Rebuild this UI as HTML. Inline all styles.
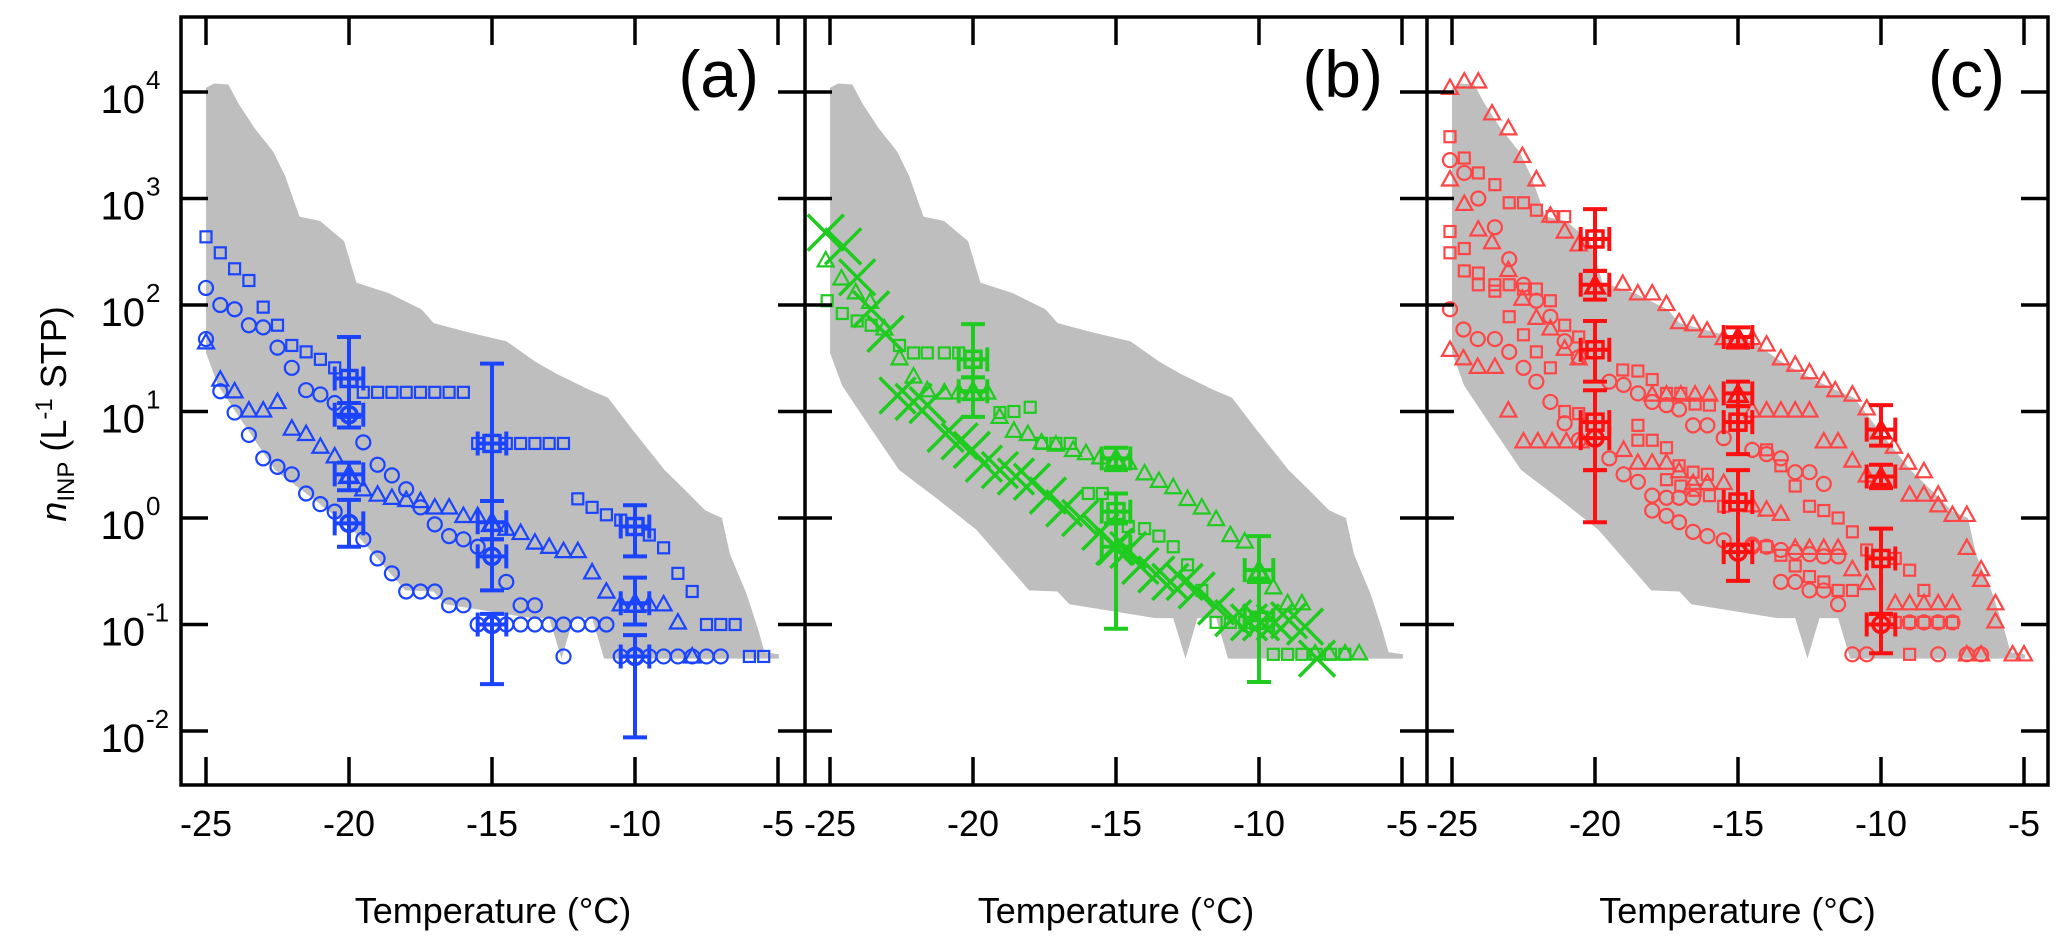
<!DOCTYPE html>
<html><head><meta charset="utf-8"><style>
html,body{margin:0;padding:0;background:#fff;}
svg{display:block;font-family:"Liberation Sans",Arial,sans-serif;}
</style></head><body>
<svg id="chart" width="2067" height="949" viewBox="0 0 2067 949" xmlns="http://www.w3.org/2000/svg">
<g id="envelopes"></g>
<g id="marks"></g>
<g id="axes"></g>
<text transform="translate(66,414) rotate(-90)" text-anchor="middle" font-size="36"><tspan font-style="italic">n</tspan><tspan font-size="24" dy="8">INP</tspan><tspan dy="-8"> (L</tspan><tspan font-size="24" dy="-14">-1</tspan><tspan dy="14"> STP)</tspan></text>
</svg>
<script>
// ----- shared envelope (log10 n) -----
const envUpperT = [-25,-24.71,-24.22,-23.86,-23.3,-22.65,-22.23,-21.73,-21.02,-20.17,-19.74,-18.6,-17.47,-17.04,-15.77,-14.5,-13.5,-12.78,-11.65,-10.94,-10.09,-8.96,-8.24,-7.54,-6.96,-6.68,-6.1,-5.68,-5.47,-4.97];
const envUpperL = [4.04,4.08,4.07,3.89,3.66,3.44,3.21,2.83,2.79,2.60,2.21,2.11,1.96,1.83,1.74,1.66,1.47,1.36,1.21,1.13,0.83,0.45,0.26,0.07,0.0,-0.34,-0.71,-1.06,-1.26,-1.28];
const envLowerT = [-4.97,-11.08,-11.5,-12.15,-12.57,-13.0,-13.63,-16.63,-17.05,-18.04,-19.88,-21.3,-22.58,-23.72,-24.57,-25];
const envLowerL = [-1.32,-1.32,-0.94,-0.94,-1.32,-0.94,-0.94,-0.81,-0.69,-0.68,-0.11,0.19,0.45,0.9,1.24,1.55];

// ----- panel (a) blue -----
const aSqT = [-25,-24.5,-24,-23.5,-23,-22.5,-22,-21.5,-21,-20.5,-19.5,-19,-18.5,-18,-17.5,-17,-16.5,-16,-15.5,-14.5,-14,-13.5,-13,-12.5,-12,-11.5,-11,-10.5,-9.5,-9,-8.5,-8,-7.5,-7,-6.5,-6,-5.5];
const aSqL = [2.64,2.49,2.34,2.23,1.98,1.81,1.62,1.56,1.49,1.41,1.18,1.18,1.18,1.18,1.18,1.18,1.18,1.18,0.70,0.70,0.70,0.70,0.70,0.70,0.18,0.10,0.03,-0.02,-0.16,-0.28,-0.52,-0.69,-1.0,-1.0,-1.0,-1.3,-1.3];
const aCirc1T = [-25,-24.5,-24,-23.5,-23,-22.5,-22,-21.5,-21,-20.5,-19.5,-19,-18.5,-18,-17.5,-17,-16.5,-16,-15.5,-14.5,-14,-13.5,-13,-12.5,-12,-11.5,-11];
const aCirc1L = [2.16,2.0,1.96,1.81,1.79,1.60,1.41,1.20,1.16,1.08,0.71,0.50,0.40,0.27,0.10,-0.06,-0.17,-0.2,-0.27,-0.6,-0.82,-0.82,-1.0,-1.0,-1.0,-1.0,-1.0];
const aCirc2T = [-25,-24.5,-24,-23.5,-23,-22.5,-22,-21.5,-21,-20.5,-19.5,-19,-18.5,-18,-17.5,-17,-16.5,-16,-15.5,-14.5,-14,-13.5,-12.5,-10.5,-9.5,-9,-8.5,-8,-7.5,-7];
const aCirc2L = [1.68,1.19,0.99,0.78,0.56,0.48,0.41,0.23,0.13,0.06,-0.2,-0.38,-0.52,-0.69,-0.69,-0.69,-0.82,-0.82,-1.0,-1.0,-1.0,-1.0,-1.3,-1.3,-1.3,-1.3,-1.3,-1.3,-1.3,-1.3];
const aTriT = [-25,-24.5,-24,-23.5,-23,-22.5,-22,-21.5,-21,-20.5,-19.5,-19,-18.5,-18,-17.5,-17,-16.5,-16,-15.5,-14.5,-14,-13.5,-13,-12.5,-12,-11.5,-11,-10.5,-9.5,-9,-8.5,-8];
const aTriL = [1.66,1.31,1.20,1.02,1.02,1.10,0.85,0.80,0.68,0.59,0.28,0.23,0.2,0.18,0.17,0.11,0.11,0.03,0.03,-0.09,-0.13,-0.22,-0.26,-0.30,-0.30,-0.5,-0.68,-0.8,-0.8,-0.8,-0.97,-1.29];
const aErrT = [-20,-20,-20,-20,-15,-15,-15,-15,-10,-10,-10];
const aErrL = [1.31,0.97,0.41,-0.05,0.70,-0.04,-0.36,-1.0,-0.08,-0.8,-1.3];
const aErrLo = [0.95,0.85,0.26,-0.27,0.16,-0.2,-0.68,-1.56,-0.36,-1.0,-2.06];
const aErrHi = [1.70,1.08,0.52,0.17,1.45,0.16,-0.2,-0.9,0.12,-0.56,-1.1];
const aErrShape = ['square','circle','triangle','circle','square','triangle','circle','circle','square','triangle','circle'];

// ----- panel (b) green -----
const bCrossT = [-25.15,-24.54,-24.05,-23.56,-23.06,-22.64,-22.08,-21.59,-20.96,-20.47,-20.04,-19.62,-19.06,-18.5,-17.94,-17.38,-16.81,-16.25,-15.55,-15.06,-14.57,-14.15,-13.59,-13.1,-12.6,-12.18,-11.5,-10.9,-10.35,-9.93,-9.45,-8.95,-8.39,-7.97];
const bCrossL = [2.68,2.55,2.26,1.96,1.73,1.15,1.09,1.06,0.79,0.72,0.64,0.51,0.45,0.39,0.34,0.21,0.09,0.0,-0.13,-0.27,-0.30,-0.45,-0.53,-0.60,-0.60,-0.68,-0.83,-0.94,-0.98,-0.98,-0.98,-0.96,-1.02,-1.32];
const bTriT = [-25.15,-24.6,-24.1,-23.6,-23.1,-22.57,-22.08,-21.6,-21,-20.5,-19.5,-19.07,-18.57,-18.08,-17.6,-17.1,-16.5,-16.05,-15.55,-14.57,-14,-13.5,-13,-12.5,-12,-11.5,-11,-10.5,-9.5,-9,-8.5,-8.04,-7.55,-6.99,-6.5];
const bTriL = [2.43,2.26,2.13,2.04,1.79,1.51,1.34,1.21,1.19,1.19,1.19,0.96,0.83,0.80,0.72,0.70,0.65,0.62,0.58,0.53,0.43,0.36,0.30,0.19,0.11,0.0,-0.15,-0.21,-0.64,-0.79,-0.79,-1.26,-1.26,-1.26,-1.26];
const bSqT = [-25.1,-24.57,-24.05,-23.56,-22.57,-22.08,-21.6,-21,-20.5,-19.06,-18.57,-18,-17.6,-17.1,-16.6,-15.97,-15.48,-14.57,-14,-13.5,-13,-12.5,-12,-11.5,-11,-10.5,-9.5,-9,-8.5,-8,-7.5,-7];
const bSqL = [2.04,1.92,1.85,1.81,1.62,1.55,1.55,1.55,1.55,0.99,1.0,1.04,0.70,0.70,0.70,0.23,0.23,-0.08,-0.10,-0.17,-0.27,-0.44,-0.68,-0.98,-0.98,-0.98,-1.28,-1.28,-1.28,-1.28,-1.28,-1.28];
const bErrT = [-20,-20,-15,-15,-15,-10,-10];
const bErrL = [1.49,1.19,0.56,0.06,-0.27,-0.49,-0.96];
const bErrLo = [1.32,0.95,0.45,-0.05,-1.04,-0.6,-1.54];
const bErrHi = [1.82,1.32,0.66,0.23,-0.05,-0.17,-0.6];
const bErrShape = ['square','triangle','triangle','square','cross','triangle','square'];

// ----- panel (c) red -----
const cTri1T = [-25.07,-24.57,-24.08,-23.6,-23.03,-22.54,-22.05,-21.56,-21.06,-20.57,-19.03,-18.5,-18,-17.5,-17.06,-16.57,-16.08,-15.5,-14.5,-14,-13.5,-13,-12.5,-12,-11.6,-11,-10.5,-9.55,-9.05,-8.5,-8,-7.5,-7,-7,-6.5,-6.5,-6,-6,-5.4,-5];
const cTri1L = [4.05,4.11,4.11,3.81,3.67,3.41,3.19,2.85,2.70,2.58,2.21,2.12,2.12,2.02,1.85,1.83,1.77,1.70,1.70,1.64,1.51,1.45,1.38,1.30,1.21,1.17,1.04,0.68,0.53,0.45,0.23,0.04,0.04,-0.27,-0.47,-0.57,-0.79,-0.96,-1.27,-1.27];
const cTri2T = [-25.07,-24.57,-24.08,-23.6,-23.03,-22.54,-22.05,-21.56,-21.06,-20.57,-18,-17.5,-17,-16.5,-16,-14.5,-14,-13.5,-13,-12.5,-12,-11.5,-11,-10.5,-9,-8.5,-8];
const cTri2L = [3.19,2.96,2.72,2.60,2.34,2.07,1.89,1.79,1.60,1.51,1.17,1.17,1.17,1.17,1.17,1.02,1.02,1.02,1.02,1.02,0.73,0.73,0.55,0.41,0.23,0.23,0.13];
const cTri3T = [-25.07,-24.6,-24.1,-23.5,-23.03,-22.5,-22,-21.5,-21,-20.5,-19,-18.5,-18,-17.5,-17.06,-16.57,-16.07,-15.5,-14.5,-14,-13.5,-13,-12.5,-12,-11.5,-11,-10.5,-9.5,-9,-8.5,-8,-7.5,-7,-6.5];
const cTri3L = [1.59,1.51,1.43,1.43,1.02,0.73,0.73,0.73,0.73,0.73,0.65,0.53,0.53,0.53,0.45,0.34,0.34,0.34,0.13,0.09,0.05,-0.27,-0.27,-0.27,-0.27,-0.47,-0.6,-0.79,-0.79,-0.79,-0.79,-0.79,-1.27,-1.27];
const cCirc1T = [-25.07,-24.57,-24.08,-23.5,-23,-22.5,-22.05,-21.56,-21.06,-20.57,-19.5,-19,-18.5,-18,-17.5,-17.06,-16.57,-16.07,-15.5,-14.5,-14,-13.5,-13,-12.5,-12];
const cCirc1L = [3.36,3.24,3.0,2.73,2.43,2.19,2.04,1.89,1.66,1.51,1.28,1.25,1.17,1.09,1.06,1.02,0.87,0.87,0.75,0.64,0.60,0.56,0.43,0.43,0.32];
const cCirc2T = [-25.07,-24.6,-24.1,-23.5,-23,-22.5,-22.05,-21.56,-21.06,-20.57,-19.5,-19,-18.5,-18,-17.5,-17.06,-16.57,-14.5,-13.5,-13,-12.5,-12,-11.5];
const cCirc2L = [1.96,1.77,1.68,1.68,1.56,1.41,1.28,1.09,0.89,0.73,0.56,0.41,0.34,0.21,0.19,0.19,0.19,-0.27,-0.6,-0.6,-0.68,-0.68,-0.81];
const cCirc3T = [-18,-17.5,-17.06,-16.57,-16.07,-15.5,-14.5,-14,-13.5,-13,-12.5,-12,-11.5,-11,-10.5,-9,-8.5,-8,-7.5,-8,-7,-6.5];
const cCirc3L = [0.07,0.02,-0.04,-0.13,-0.17,-0.21,-0.25,-0.27,-0.3,-0.32,-0.34,-0.36,-0.36,-1.28,-1.28,-0.98,-0.98,-0.98,-0.98,-1.28,-1.28,-1.28];
const cSqT = [-25.07,-24.57,-24.08,-23.5,-23,-22.5,-22.05,-21.5,-21.06,-25.07,-25.07,-24.57,-24.57,-24.08,-24.08,-23.5,-23.5,-23,-23,-22.5,-22.5,-22.05,-22.05,-21.56,-21.56,-21.06,-21.06,-20.57,-20.57,-19.03,-18.5,-18,-17.5,-17,-16.5,-16,-18.5,-18.5,-18,-17.5,-17.06,-16.57,-16.07,-17.5,-17,-16.5,-16,-15.5,-14,-13.5,-13,-12.5,-12,-11.5,-11,-10.5,-9.5,-9,-8.5,-14,-13.5,-13,-12.5,-12,-11.5,-11,-9.5,-9,-8.5,-8,-7.5,-9];
const cSqL = [3.58,3.38,3.24,3.13,2.96,2.96,2.89,2.83,2.83,2.69,2.49,2.53,2.32,2.30,2.19,2.19,2.13,2.19,1.89,2.15,1.72,2.15,1.56,2.04,1.41,1.81,1.0,1.70,0.98,1.39,1.38,1.30,1.17,1.17,1.07,1.06,0.87,0.73,0.73,0.66,0.49,0.43,0.41,0.36,0.30,0.26,0.21,0.11,0.64,0.49,0.30,0.11,0.07,0.0,-0.13,-0.3,-0.38,-0.49,-0.68,-0.27,-0.35,-0.45,-0.55,-0.6,-0.68,-0.68,-0.98,-0.98,-0.98,-0.98,-0.98,-1.28];
const cErrT = [-20,-20,-20,-20,-20,-15,-15,-15,-15,-15,-10,-10,-10,-10];
const cErrL = [2.62,2.19,1.58,0.9,0.75,1.70,1.17,0.9,0.15,-0.32,0.83,0.39,-0.38,-1.0];
const cErrLo = [2.32,2.05,1.28,0.45,-0.04,1.60,1.05,0.6,-0.25,-0.59,0.68,0.28,-0.9,-1.27];
const cErrHi = [2.90,2.32,1.85,1.2,0.45,1.79,1.28,1.05,0.45,-0.25,1.06,0.5,-0.1,-0.9];
const cErrShape = ['square','triangle','square','square','circle','triangle','triangle','square','square','circle','triangle','triangle','square','circle'];

const xTickLabels = ['-25','-20','-15','-10','-5'];
const xTickValues = [-25,-20,-15,-10,-5];
const yTickExp = ['4','3','2','1','0','-1','-2'];
const yTickValues = [4,3,2,1,0,-1,-2];
const panelLetters = ['(a)','(b)','(c)'];

// ----- scales -----
const NS='http://www.w3.org/2000/svg';
const panelLeft=[181,805,1427], panelRight=2048, frameTop=17, frameBottom=785;
function xOf(p,T){return panelLeft[p]+25+(T+25)*28.6;}
function yOf(L){return 92+(4-L)*106.5;}
function mk(tag,attrs,parent){const e=document.createElementNS(NS,tag);for(const k in attrs)e.setAttribute(k,attrs[k]);parent.appendChild(e);return e;}

const envG=document.getElementById('envelopes');
const marksG=document.getElementById('marks');
const axG=document.getElementById('axes');

// envelopes
for(let p=0;p<3;p++){
  let pts=[];
  for(let i=0;i<envUpperT.length;i++)pts.push(xOf(p,envUpperT[i]).toFixed(1)+','+yOf(envUpperL[i]).toFixed(1));
  for(let i=0;i<envLowerT.length;i++)pts.push(xOf(p,envLowerT[i]).toFixed(1)+','+yOf(envLowerL[i]).toFixed(1));
  const poly=mk('polygon',{points:pts.join(' '),fill:'#bebebe'},envG);
  
  
}

function marker(parent,shape,cx,cy,s,color,sw){
  let e;
  if(shape==='square'){e=mk('rect',{x:cx-s/2,y:cy-s/2,width:s,height:s,fill:'none',stroke:color,'stroke-width':sw},parent);}
  else if(shape==='circle'){e=mk('circle',{cx:cx,cy:cy,r:s/2,fill:'none',stroke:color,'stroke-width':sw},parent);}
  else if(shape==='triangle'){const h=s*0.9;e=mk('polygon',{points:(cx-s/2)+','+(cy+h/2)+' '+(cx+s/2)+','+(cy+h/2)+' '+cx+','+(cy-h/2),fill:'none',stroke:color,'stroke-width':sw},parent);}
  else {const d=s/2;e=mk('path',{d:'M'+(cx-d)+' '+(cy-d)+'L'+(cx+d)+' '+(cy+d)+'M'+(cx-d)+' '+(cy+d)+'L'+(cx+d)+' '+(cy-d),fill:'none',stroke:color,'stroke-width':sw},parent);}
  return e;
}
function series(p,Ts,Ls,shape,color,size,sw,name){
  const g=mk('g',{},marksG);
  
  
  for(let i=0;i<Ts.length;i++){
    const m=marker(g,shape,xOf(p,Ts[i]),yOf(Ls[i]),size,color,sw);
    
    
  }
}
function errs(p,Ts,Ls,Lo,Hi,shapes,color,mcolor,name){
  const g=mk('g',{},marksG);
  
  
  for(let i=0;i<Ts.length;i++){
    const x=xOf(p,Ts[i]),y=yOf(Ls[i]),y1=yOf(Hi[i]),y2=yOf(Lo[i]);
    const xl=xOf(p,Ts[i]-0.5),xr=xOf(p,Ts[i]+0.5);
    const d='M'+x+' '+y1+'V'+y2+'M'+(x-12)+' '+y1+'H'+(x+12)+'M'+(x-12)+' '+y2+'H'+(x+12)+
      'M'+xl+' '+y+'H'+xr+'M'+xl+' '+(y-12)+'V'+(y+12)+'M'+xr+' '+(y-12)+'V'+(y+12);
    const e=mk('path',{d:d,fill:'none',stroke:color,'stroke-width':4},g);
    
    
    const sz=shapes[i]==='cross'?36:(shapes[i]==='triangle'?18:16);
    const m=marker(g,shapes[i],x,y,sz,mcolor,3.5);
    
    
  }
}

const BLUE='#1a44ff', GREEN='#1ecb1e', RED='#ff4545', RED2='#ff1010';
series(0,aSqT,aSqL,'square',BLUE,11,2.2,'a-squares');
series(0,aCirc1T,aCirc1L,'circle',BLUE,14,2.2,'a-circles-upper');
series(0,aCirc2T,aCirc2L,'circle',BLUE,14,2.2,'a-circles-lower');
series(0,aTriT,aTriL,'triangle',BLUE,16,2.2,'a-triangles');
errs(0,aErrT,aErrL,aErrLo,aErrHi,aErrShape,BLUE,BLUE,'a-error-bars');

series(1,bSqT,bSqL,'square',GREEN,11,2.2,'b-squares');
series(1,bTriT,bTriL,'triangle',GREEN,16,2.2,'b-triangles');
series(1,bCrossT,bCrossL,'cross',GREEN,36,3.5,'b-crosses');
errs(1,bErrT,bErrL,bErrLo,bErrHi,bErrShape,GREEN,GREEN,'b-error-bars');

series(2,cSqT,cSqL,'square',RED,11,2.2,'c-squares');
series(2,cCirc1T,cCirc1L,'circle',RED,14,2.2,'c-circles-upper');
series(2,cCirc2T,cCirc2L,'circle',RED,14,2.2,'c-circles-middle');
series(2,cCirc3T,cCirc3L,'circle',RED,14,2.2,'c-circles-lower');
series(2,cTri1T,cTri1L,'triangle',RED,16,2.2,'c-triangles-upper');
series(2,cTri2T,cTri2L,'triangle',RED,16,2.2,'c-triangles-middle');
series(2,cTri3T,cTri3L,'triangle',RED,16,2.2,'c-triangles-lower');
errs(2,cErrT,cErrL,cErrLo,cErrHi,cErrShape,RED2,RED2,'c-error-bars');

// axes frame
const frame=mk('rect',{x:panelLeft[0],y:frameTop,width:panelRight-panelLeft[0],height:frameBottom-frameTop,fill:'none',stroke:'#000','stroke-width':3.5},axG);


for(let p=1;p<3;p++){
  const l=mk('line',{x1:panelLeft[p],x2:panelLeft[p],y1:frameTop,y2:frameBottom,stroke:'#000','stroke-width':3.5},axG);
  
  
}
// y ticks
for(let i=0;i<yTickValues.length;i++){
  const y=yOf(yTickValues[i]);
  let d='M'+panelLeft[0]+' '+y+'h27';
  for(let p=1;p<3;p++)d+='M'+(panelLeft[p]-27)+' '+y+'h54';
  d+='M'+(panelRight-27)+' '+y+'h27';
  const t=mk('path',{d:d,stroke:'#000','stroke-width':3.5},axG);
  
  
  const lab=mk('text',{x:145,y:y+21,'text-anchor':'end','font-size':40},axG);
  lab.textContent='10';
  
  
  const sup=mk('text',{x:146,y:y-3,'font-size':26},axG);
  sup.textContent=yTickExp[i];
  
  
}
// x ticks
for(let p=0;p<3;p++){
  for(let i=0;i<xTickValues.length;i++){
    const x=xOf(p,xTickValues[i]);
    const t=mk('path',{d:'M'+x+' '+frameTop+'v28M'+x+' '+frameBottom+'v-28',stroke:'#000','stroke-width':3.5},axG);
    
    
    const lab=mk('text',{x:x,y:836,'text-anchor':'middle','font-size':36},axG);
    lab.textContent=xTickLabels[i];
    
    
  }
  const w=(p<2?panelLeft[p+1]:panelRight)-panelLeft[p];
  const tt=mk('text',{x:panelLeft[p]+w/2,y:923,'text-anchor':'middle','font-size':36},axG);
  tt.textContent='Temperature (°C)';
  
  
  const pl=mk('text',{x:panelLeft[p]+578,y:97,'text-anchor':'end','font-size':66},axG);
  pl.textContent=panelLetters[p];
  
  
}
</script>
</body></html>
